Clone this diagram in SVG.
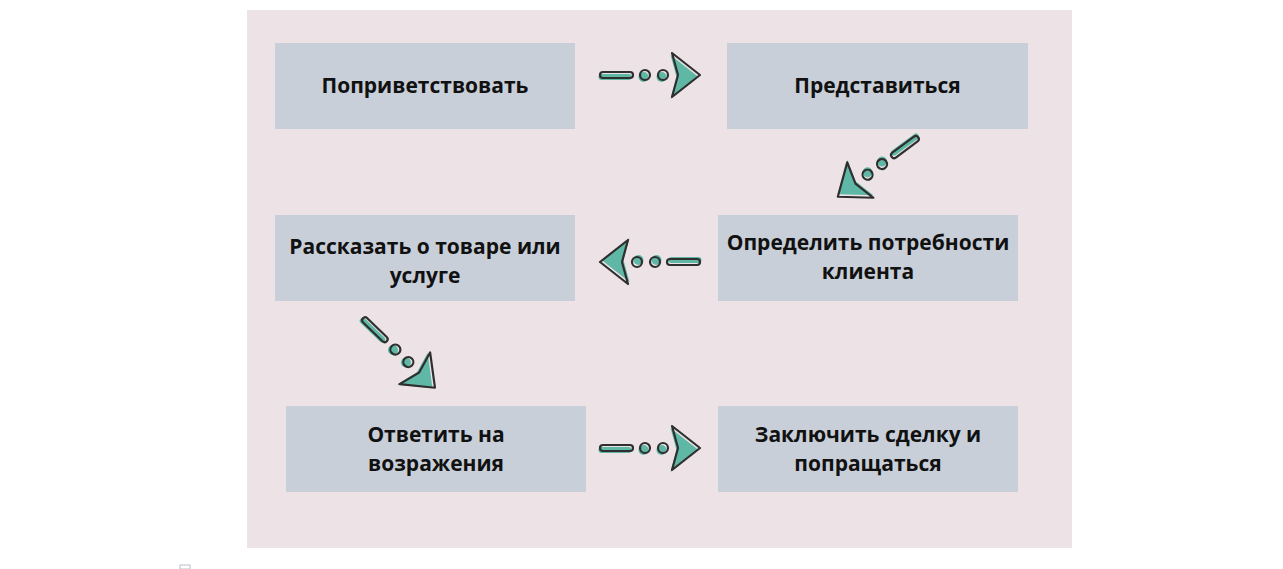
<svg xmlns="http://www.w3.org/2000/svg" xmlns:xlink="http://www.w3.org/1999/xlink" width="1283" height="569" viewBox="0 0 1283 569">
<style>
.panel{fill:#ede3e6}
.box{fill:#c8cfd8}
.lbl{font-family:"Open Sans","Noto Sans","Liberation Sans",sans-serif;font-weight:700;font-size:21px;fill:#111;text-anchor:middle}
.sh{fill:#5fb8a6}
.ol{fill:none;stroke:#2f2f2f;stroke-width:2.2;stroke-linejoin:round}
</style>
<defs>
<g id="arr">
<g class="sh" transform="translate(-1.5,2)">
<rect x="-50" y="-3" width="33" height="6" rx="3"/>
<circle cx="-5" cy="0" r="5"/>
<circle cx="13" cy="0" r="5"/>
<path d="M22,-22 L50,0 L22,22 L28,0 Z"/>
</g>
<g class="ol">
<rect x="-50" y="-3" width="33" height="6" rx="3"/>
<circle cx="-5" cy="0" r="5"/>
<circle cx="13" cy="0" r="5"/>
<path d="M22,-22 L50,0 L22,22 L28,0 Z"/>
</g>
</g>
</defs>
<rect width="1283" height="569" fill="#ffffff"/>
<rect class="panel" x="247" y="10" width="825" height="538"/>
<rect x="180" y="565" width="10" height="4" fill="none" stroke="#b8bec8" stroke-width="1"/>
<g id="n1"><rect class="box" x="275" y="43" width="300" height="86"/><text class="lbl" x="425" y="93">Поприветствовать</text></g>
<g id="n2"><rect class="box" x="727" y="43" width="301" height="86"/><text class="lbl" x="877.5" y="93">Представиться</text></g>
<g id="n3"><rect class="box" x="275" y="215" width="300" height="86"/><text class="lbl" x="425" y="254">Рассказать о товаре или</text><text class="lbl" x="425" y="283">услуге</text></g>
<g id="n4"><rect class="box" x="718" y="215" width="300" height="86"/><text class="lbl" x="868" y="250">Определить потребности</text><text class="lbl" x="868" y="279">клиента</text></g>
<g id="n5"><rect class="box" x="286" y="406" width="300" height="86"/><text class="lbl" x="436" y="442">Ответить на</text><text class="lbl" x="436" y="471">возражения</text></g>
<g id="n6"><rect class="box" x="718" y="406" width="300" height="86"/><text class="lbl" x="868" y="442">Заключить сделку и</text><text class="lbl" x="868" y="471">попращаться</text></g>
<g id="connectors">
<use xlink:href="#arr" transform="translate(650,75)"/>
<use xlink:href="#arr" transform="translate(878,167) rotate(143.5)"/>
<use xlink:href="#arr" transform="translate(650,262) rotate(180)"/>
<use xlink:href="#arr" transform="translate(399,353) rotate(44)"/>
<use xlink:href="#arr" transform="translate(650,448)"/>
</g>
</svg>
